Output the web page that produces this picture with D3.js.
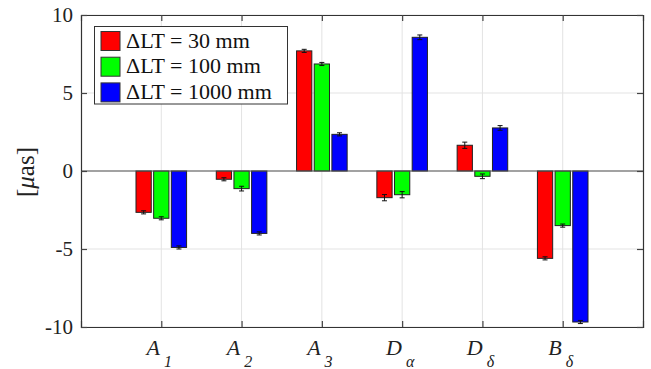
<!DOCTYPE html>
<html><head><meta charset="utf-8">
<script src="https://cdn.jsdelivr.net/npm/d3@7"></script>
<style>svg text, svg tspan { font-family: 'Liberation Serif', serif !important; }</style>
</head><body style="margin:0"><svg id="c" width="651" height="369" style="font-family:'Liberation Serif', serif"></svg>
<script>
const categories = [["A","1"],["A","2"],["A","3"],["D","α"],["D","δ"],["B","δ"]];
const seriesNames = ["ΔLT = 30 mm","ΔLT = 100 mm","ΔLT = 1000 mm"];
const seriesColors = ["#ff0000","#00ff00","#0000ff"];
const values30 = [-2.65, -0.53, 7.7, -1.71, 1.65, -5.6];
const values100 = [-3.03, -1.13, 6.86, -1.52, -0.34, -3.5];
const values1000 = [-4.9, -4.0, 2.35, 8.57, 2.76, -9.68];
const err30 = [0.1, 0.1, 0.1, 0.2, 0.2, 0.1];
const err100 = [0.1, 0.15, 0.1, 0.2, 0.15, 0.1];
const err1000 = [0.1, 0.1, 0.1, 0.15, 0.15, 0.1];
const yTicks = [-10, -5, 0, 5, 10];

const FF = "'Liberation Serif', serif";
const svg = d3.select("#c");
const L = 81, R = 643, T = 15, B = 327;
const x = d3.scaleLinear().domain([0, 7]).range([L, R]);
const y = d3.scaleLinear().domain([-10, 10]).range([B, T]);
const series = [values30, values100, values1000];
const errs = [err30, err100, err1000];
const off = [-0.22, 0, 0.22];
const bw = x(0.19) - x(0);

// grid
const g = svg.append("g");
g.selectAll(".gx").data(categories).join("line")
  .attr("x1", (d,i)=>x(i+1)).attr("x2",(d,i)=>x(i+1)).attr("y1",T).attr("y2",B)
  .attr("stroke","#e3e3e3").attr("stroke-width",1);
g.selectAll(".gy").data(yTicks).join("line")
  .attr("x1",L).attr("x2",R).attr("y1",d=>y(d)).attr("y2",d=>y(d))
  .attr("stroke","#e3e3e3").attr("stroke-width",1);

// bars
series.forEach((vals, s) => {
  svg.append("g").selectAll("rect").data(vals).join("rect")
    .attr("x",(d,i)=>x(i+1+off[s]) - bw/2)
    .attr("width", bw)
    .attr("y", d=>Math.min(y(d), y(0)))
    .attr("height", d=>Math.abs(y(d)-y(0)))
    .attr("fill", seriesColors[s]).attr("stroke","#222").attr("stroke-width",1);
  const eg = svg.append("g").attr("stroke","#111").attr("stroke-width",1);
  vals.forEach((d,i)=>{
    const cx = x(i+1+off[s]), e = errs[s][i];
    eg.append("line").attr("x1",cx).attr("x2",cx).attr("y1",y(d-e)).attr("y2",y(d+e));
    eg.append("line").attr("x1",cx-2.5).attr("x2",cx+2.5).attr("y1",y(d-e)).attr("y2",y(d-e));
    eg.append("line").attr("x1",cx-2.5).attr("x2",cx+2.5).attr("y1",y(d+e)).attr("y2",y(d+e));
  });
});

// zero line
svg.append("line").attr("x1",L).attr("x2",R).attr("y1",y(0)).attr("y2",y(0))
  .attr("stroke","#555").attr("stroke-width",1.2);

// axes
const ax = d3.axisBottom(x).tickValues([1,2,3,4,5,6]).tickSize(-6).tickFormat("");
const axT = d3.axisTop(x).tickValues([1,2,3,4,5,6]).tickSize(-6).tickFormat("");
const ay = d3.axisLeft(y).tickValues(yTicks).tickSize(-6).tickFormat("");
const ayR = d3.axisRight(y).tickValues(yTicks).tickSize(-6).tickFormat("");
function style(sel){ sel.attr("font-family", null); sel.selectAll("text").remove(); sel.selectAll("path,line").attr("stroke","#444").attr("stroke-width",1.2); sel.select(".domain").attr("stroke","#333"); }
svg.append("g").attr("transform",`translate(0,${B})`).call(ax).call(style);
svg.append("g").attr("transform",`translate(0,${T})`).call(axT).call(style);
svg.append("g").attr("transform",`translate(${L},0)`).call(ay).call(style);
svg.append("g").attr("transform",`translate(${R},0)`).call(ayR).call(style);

yTicks.forEach(v=>{
  svg.append("text").attr("x", L-8).attr("y", y(v)+7).attr("text-anchor","end")
    .attr("font-size",21).style("font-family",FF,"important").attr("fill","#222").text(v);
});

// x labels
categories.forEach((c,i)=>{
  const t = svg.append("text").attr("x", x(i+1)-2).attr("y", 355).style("font-family",FF,"important")
    .attr("text-anchor","middle").attr("font-size",22).attr("font-style","italic").attr("fill","#222");
  t.append("tspan").text(c[0]);
  t.append("tspan").attr("dy",12).attr("dx",4).attr("font-size",16).text(c[1]);
});

// y label
svg.append("text").attr("transform","translate(34,172) rotate(-90)").style("font-family",FF,"important")
  .attr("text-anchor","middle").attr("font-size",25).attr("fill","#222")
  .html('[<tspan font-style="italic">μ</tspan>as]');

// legend
svg.append("rect").attr("x",94.5).attr("y",26.5).attr("width",193).attr("height",77.5)
  .attr("fill","#fff").attr("stroke","#333").attr("stroke-width",1);
seriesNames.forEach((n,i)=>{
  const cy = 41 + i*25.7;
  svg.append("rect").attr("x",101).attr("y",cy-9.5).attr("width",19).attr("height",19)
    .attr("fill",seriesColors[i]).attr("stroke","#333").attr("stroke-width",1);
  svg.append("text").attr("x",126).attr("y",cy+6.5).style("font-family",FF,"important").attr("font-size",22).attr("fill","#111").text(n);
});
</script></body></html>
